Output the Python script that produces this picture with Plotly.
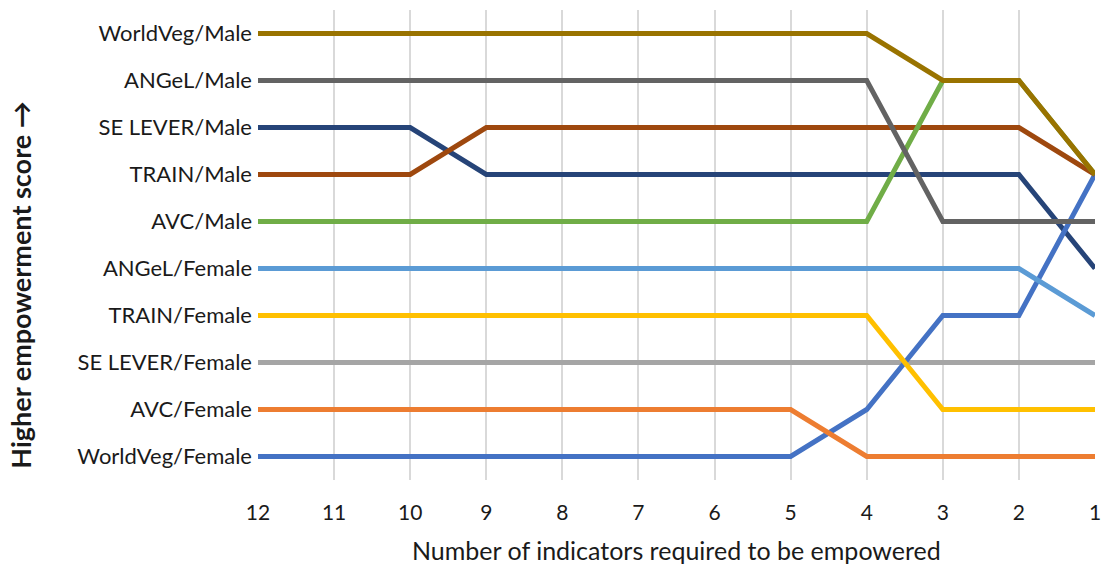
import plotly.graph_objects as go

# Number of indicators required to be empowered (x axis, shown from 12 down to 1)
indicators = [12, 11, 10, 9, 8, 7, 6, 5, 4, 3, 2, 1]

# Rank slots on the y axis (1 = bottom, 10 = top) and their labels
rank_vals = [1, 2, 3, 4, 5, 6, 7, 8, 9, 10]
rank_labels = [
    "WorldVeg/Female", "AVC/Female", "SE LEVER/Female", "TRAIN/Female",
    "ANGeL/Female", "AVC/Male", "TRAIN/Male", "SE LEVER/Male",
    "ANGeL/Male", "WorldVeg/Male",
]

# Rank of each group at every threshold (drawing order: first = bottom layer)
se_lever_male = [8, 8, 8, 7, 7, 7, 7, 7, 7, 7, 7, 5]
se_lever_female = [3, 3, 3, 3, 3, 3, 3, 3, 3, 3, 3, 3]
worldveg_female = [1, 1, 1, 1, 1, 1, 1, 1, 2, 4, 4, 7]
avc_female = [2, 2, 2, 2, 2, 2, 2, 2, 1, 1, 1, 1]
train_female = [4, 4, 4, 4, 4, 4, 4, 4, 4, 2, 2, 2]
angel_female = [5, 5, 5, 5, 5, 5, 5, 5, 5, 5, 5, 4]
train_male = [7, 7, 7, 8, 8, 8, 8, 8, 8, 8, 8, 7]
avc_male = [6, 6, 6, 6, 6, 6, 6, 6, 6, 9, 9, 7]
angel_male = [9, 9, 9, 9, 9, 9, 9, 9, 9, 6, 6, 6]
worldveg_male = [10, 10, 10, 10, 10, 10, 10, 10, 10, 9, 9, 7]

series = [
    ("SE LEVER/Male", se_lever_male, "#264478"),
    ("SE LEVER/Female", se_lever_female, "#A5A5A5"),
    ("WorldVeg/Female", worldveg_female, "#4472C4"),
    ("AVC/Female", avc_female, "#ED7D31"),
    ("TRAIN/Female", train_female, "#FFC000"),
    ("ANGeL/Female", angel_female, "#5B9BD5"),
    ("TRAIN/Male", train_male, "#9E480E"),
    ("AVC/Male", avc_male, "#70AD47"),
    ("ANGeL/Male", angel_male, "#636363"),
    ("WorldVeg/Male", worldveg_male, "#997300"),
]

FONT = "Lato"
TEXT = "#1a1a1a"

fig = go.Figure()
for name, vals, color in series:
    fig.add_trace(go.Scatter(
        x=indicators, y=vals, mode="lines", name=name,
        line=dict(color=color, width=5),
        showlegend=False,
    ))

fig.update_layout(
    width=1109, height=565,
    margin=dict(l=258, r=8, t=10, b=85),
    paper_bgcolor="white", plot_bgcolor="white",
    font=dict(family=FONT, size=21, color=TEXT),
    xaxis=dict(
        range=[12, 1], tickvals=indicators,
        showgrid=True, gridcolor="#D9D9D9", gridwidth=1.5,
        zeroline=False, showline=False, ticks="",
        ticklabelstandoff=18,
        tickfont=dict(family=FONT, size=21, color=TEXT),
    ),
    yaxis=dict(
        range=[0.5, 10.5], tickvals=rank_vals, ticktext=rank_labels,
        showgrid=False, zeroline=False, showline=False, ticks="",
        ticklabelstandoff=5,
        tickfont=dict(family=FONT, size=22, color=TEXT),
    ),
    annotations=[
        dict(
            text="Number of indicators required to be empowered",
            xref="paper", yref="paper", x=(679 - 258) / 843, y=-(550 - 480) / 470,
            xanchor="center", yanchor="middle", showarrow=False,
            font=dict(family=FONT, size=25, color=TEXT),
        ),
        dict(
            text="<b>Higher empowerment score →</b>",
            xref="paper", yref="paper", x=(18 - 258) / 843, y=(480 - 285) / 470,
            xanchor="center", yanchor="middle", textangle=-90, showarrow=False,
            font=dict(family=FONT, size=27, color=TEXT),
        ),
    ],
)

fig.write_html("out.html")
